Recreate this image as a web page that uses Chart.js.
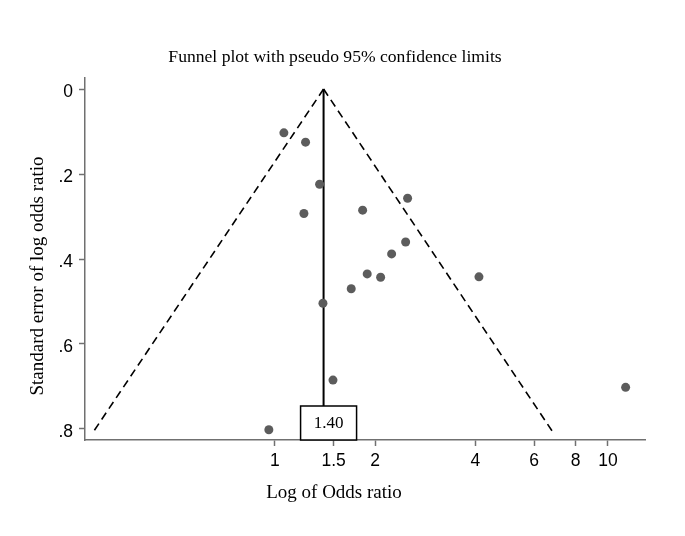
<!DOCTYPE html>
<html>
<head>
<meta charset="utf-8">
<title>Funnel plot</title>
<script src="https://cdn.jsdelivr.net/npm/chart.js@4.4.1/dist/chart.umd.min.js"></script>
<style>
    body { margin: 0; background: #fff; }
    canvas { display: block; }
</style>
</head>
<body>
<canvas id="funnelChart" width="685" height="536"></canvas>
<script>
// Study estimates (odds ratio, standard error of log OR)
const oddsRatios = [1.064, 1.236, 1.362, 2.503, 1.222, 1.834, 2.469, 2.241, 1.893, 2.077, 4.099, 1.695, 1.394, 1.494, 0.959, 11.30];
const stdErrors = [0.103, 0.125, 0.224, 0.257, 0.293, 0.285, 0.360, 0.388, 0.435, 0.443, 0.442, 0.470, 0.504, 0.685, 0.802, 0.702];

// Pooled estimate and pseudo 95% limits
const pooledOR = 1.40;
const lowerLimitOR = [1.40, 0.286];
const upperLimitOR = [1.40, 6.80];
const limitSE = [0, 0.805];

// Axis ticks
const xTicks = [1, 1.5, 2, 4, 6, 8, 10];
const yTicks = [0, 0.2, 0.4, 0.6, 0.8];

const serif = "'Liberation Serif', 'Times New Roman', serif";
const sans = "'Liberation Sans', Arial, sans-serif";
const axisGray = '#707070';

const studyPoints = oddsRatios.map((or, i) => ({ x: or, y: stdErrors[i] }));
const lowerLine = lowerLimitOR.map((or, i) => ({ x: or, y: limitSE[i] }));
const upperLine = upperLimitOR.map((or, i) => ({ x: or, y: limitSE[i] }));

// Pooled OR label box at the foot of the vertical line
const pooledBox = {
    id: 'pooledBox',
    afterDatasetsDraw(chart) {
        const { ctx, chartArea, scales } = chart;
        const px = scales.x.getPixelForValue(pooledOR);
        const left = px - 23, width = 56;
        const top = chartArea.bottom - 34, height = 34;
        ctx.save();
        ctx.fillStyle = '#fff';
        ctx.fillRect(left, top, width, height);
        ctx.strokeStyle = '#000';
        ctx.lineWidth = 1.5;
        ctx.strokeRect(left, top, width, height);
        ctx.fillStyle = '#000';
        ctx.font = '17px ' + serif;
        ctx.textAlign = 'center';
        ctx.textBaseline = 'middle';
        ctx.fillText(pooledOR.toFixed(2), left + width / 2, top + height / 2 + 1);
        ctx.restore();
    }
};

// Axis titles (placed like the Stata output, not centred on the plot area)
const axisTitles = {
    id: 'axisTitles',
    afterDraw(chart) {
        const { ctx, chartArea } = chart;
        ctx.save();
        ctx.fillStyle = '#000';
        ctx.font = '19px ' + serif;
        ctx.textAlign = 'center';
        ctx.textBaseline = 'middle';
        ctx.fillText('Log of Odds ratio', chartArea.left + 249, chartArea.bottom + 53);
        ctx.translate(chartArea.left - 47, chartArea.top + 198);
        ctx.rotate(-Math.PI / 2);
        ctx.fillText('Standard error of log odds ratio', 0, 0);
        ctx.restore();
    }
};

const ctx = document.getElementById('funnelChart').getContext('2d');
new Chart(ctx, {
    type: 'scatter',
    data: {
        datasets: [
            {
                label: 'Studies',
                data: studyPoints,
                backgroundColor: '#5c5c5c',
                borderWidth: 0,
                pointRadius: 4.5,
                pointHoverRadius: 4.5
            },
            {
                label: 'Pooled',
                data: [{ x: pooledOR, y: 0 }, { x: pooledOR, y: 0.826 }],
                showLine: true,
                borderColor: '#000',
                borderWidth: 2,
                pointRadius: 0
            },
            {
                label: 'Lower limit',
                data: lowerLine,
                showLine: true,
                borderColor: '#000',
                borderWidth: 1.6,
                borderDash: [8, 5],
                pointRadius: 0
            },
            {
                label: 'Upper limit',
                data: upperLine,
                showLine: true,
                borderColor: '#000',
                borderWidth: 1.6,
                borderDash: [8, 5],
                pointRadius: 0
            }
        ]
    },
    options: {
        responsive: false,
        animation: false,
        layout: {
            padding: { left: 25, right: 40, top: 0, bottom: 0 }
        },
        plugins: {
            legend: { display: false },
            tooltip: { enabled: false },
            title: {
                display: true,
                text: 'Funnel plot with pseudo 95% confidence limits',
                color: '#000',
                font: { family: serif, size: 17.6, weight: 'normal' },
                padding: { top: 46.4, bottom: 10.5 }
            }
        },
        scales: {
            x: {
                type: 'logarithmic',
                min: 0.269,
                max: 12.92,
                afterBuildTicks(scale) {
                    scale.ticks = xTicks.map(v => ({ value: v }));
                },
                afterFit(scale) {
                    scale.height = 96;
                },
                ticks: {
                    autoSkip: false,
                    maxRotation: 0,
                    padding: 5,
                    color: '#000',
                    font: { family: sans, size: 17.5 },
                    callback: v => String(v)
                },
                grid: {
                    drawOnChartArea: false,
                    tickLength: 6,
                    tickWidth: 1.5,
                    color: axisGray
                },
                border: { color: axisGray, width: 1.5 }
            },
            y: {
                type: 'linear',
                reverse: true,
                min: -0.026,
                max: 0.826,
                afterBuildTicks(scale) {
                    scale.ticks = yTicks.map(v => ({ value: v }));
                },
                afterFit(scale) {
                    scale.width = 60;
                },
                ticks: {
                    padding: 6,
                    labelOffset: 3,
                    color: '#000',
                    font: { family: sans, size: 17.5 },
                    callback: v => (v === 0 ? '0' : String(v).replace(/^0/, ''))
                },
                grid: {
                    drawOnChartArea: false,
                    tickLength: 6,
                    tickWidth: 1.5,
                    color: axisGray
                },
                border: { color: axisGray, width: 1.5 }
            }
        }
    },
    plugins: [pooledBox, axisTitles]
});
</script>
</body>
</html>
